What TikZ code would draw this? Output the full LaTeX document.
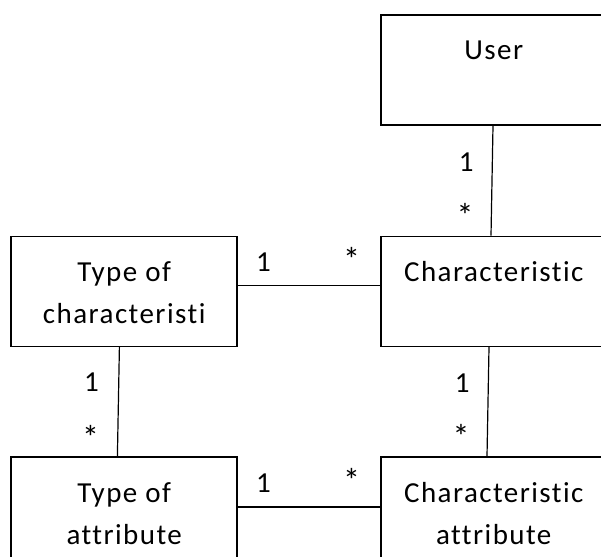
\documentclass[tikz,border=0pt]{standalone}
\usepackage{fontspec}
\setmainfont{Carlito}[LetterSpace=5, Ligatures={NoCommon}]
\usepackage{tikz}
\usetikzlibrary{positioning, calc}

\begin{document}
\begin{tikzpicture}[x=1pt,y=-1pt,
    entity/.style={rectangle, draw, line width=1.6pt, inner sep=0pt, minimum width=226pt,
        align=center, font=\fontsize{29}{42}\selectfont, text height=45pt, text depth=65pt},
    twoline/.style={text height=87pt, text depth=23pt},
    link/.style={line width=1.2pt},
    mult/.style={font=\fontsize{29}{42}\selectfont, anchor=base, inner sep=0pt},
    many/.style={mult, font=\fontsize{34}{42}\selectfont}]
    \fill[white] (0,0) rectangle (601,556);
    \useasboundingbox (0,0) rectangle (601,556);

    \node[entity, anchor=north west] (user) at (380,14) {User};
    \node[entity, below=110pt of user] (characteristic) {Characteristic};
    \node[entity, twoline, left=142pt of characteristic] (typechar) {Type of\\characteristi};
    \node[entity, twoline, below=109pt of typechar] (typeattr) {Type of\\attribute};
    \node[entity, twoline, below=109pt of characteristic] (charattr) {Characteristic\\attribute};

    \draw[link] ($(user.south west)+(113,0)$) --
        node[mult, pos=0.42, xshift=-26pt] {1}
        node[many, pos=0.93, xshift=-26pt] {*} ($(characteristic.north west)+(111,0)$);
    \draw[link] ($(typechar.east)+(0,-6)$) --
        node[mult, pos=0.18, yshift=14pt] {1}
        node[many, pos=0.80, yshift=14pt] {*} ($(characteristic.west)+(0,-6)$);
    \draw[link] ($(typechar.south west)+(109,0)$) --
        node[mult, pos=0.41, xshift=-27pt] {1}
        node[many, pos=0.94, xshift=-27pt] {*} ($(typeattr.north west)+(107,0)$);
    \draw[link] ($(characteristic.south west)+(109,0)$) --
        node[mult, pos=0.42, xshift=-26pt] {1}
        node[many, pos=0.93, xshift=-26pt] {*} ($(charattr.north west)+(107,0)$);
    \draw[link] ($(typeattr.east)+(0,-5)$) --
        node[mult, pos=0.18, yshift=15pt] {1}
        node[many, pos=0.80, yshift=15pt] {*} ($(charattr.west)+(0,-5)$);
\end{tikzpicture}
\end{document}
